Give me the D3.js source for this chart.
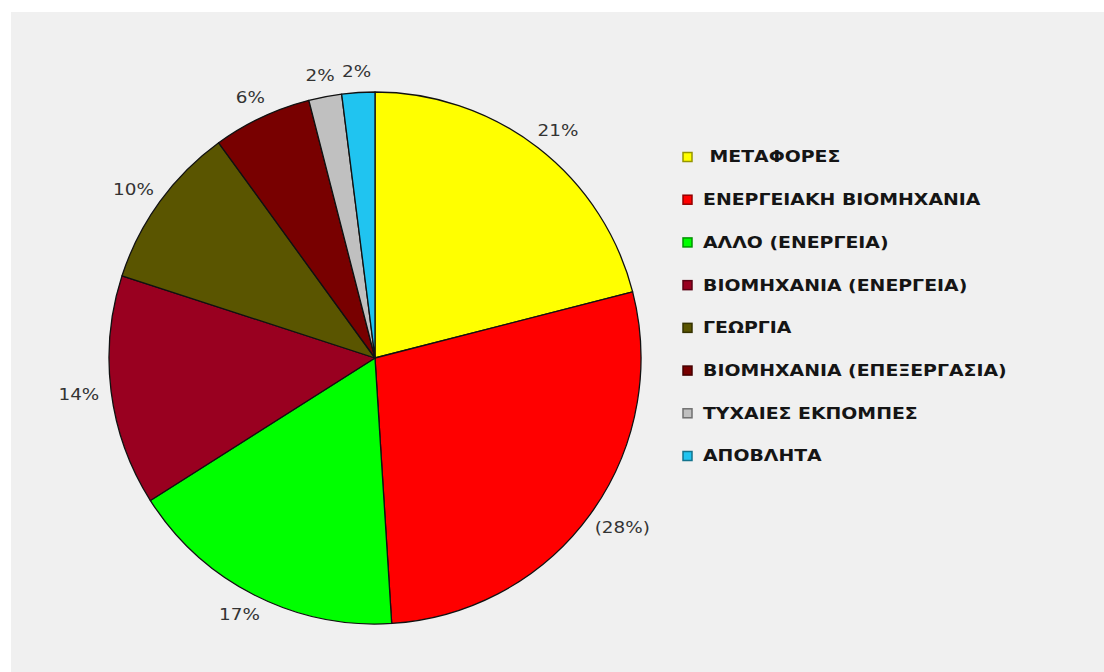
<!DOCTYPE html>
<html><head><meta charset="utf-8">
<script src="https://cdn.jsdelivr.net/npm/d3@7"></script>
<style>body{margin:0;background:#fff;overflow:hidden}</style>
</head><body><svg id="c" width="1104" height="672"></svg>
<script>
const categories = [" ΜΕΤΑΦΟΡΕΣ","ΕΝΕΡΓΕΙΑΚΗ ΒΙΟΜΗΧΑΝΙΑ","ΑΛΛΟ (ΕΝΕΡΓΕΙΑ)","ΒΙΟΜΗΧΑΝΙΑ (ΕΝΕΡΓΕΙΑ)","ΓΕΩΡΓΙΑ","ΒΙΟΜΗΧΑΝΙΑ (ΕΠΕΞΕΡΓΑΣΙΑ)","ΤΥΧΑΙΕΣ ΕΚΠΟΜΠΕΣ","ΑΠΟΒΛΗΤΑ"];
const values = [21,28,17,14,10,6,2,2];
const pctLabels = ["21%","(28%)","17%","14%","10%","6%","2%","2%"];
const colors = ["#ffff00","#ff0000","#00ff00","#990020","#5a5500","#780000","#c0c0c0","#20c4f0"];

const svg = d3.select("#c");
svg.append("rect").attr("x",11).attr("y",12).attr("width",1093).attr("height",660).attr("fill","#f0f0f0");

const cx = 375, cy = 358, R = 266;
const g = svg.append("g").attr("transform",`translate(${cx},${cy})`);
const pie = d3.pie().sort(null).value(d=>d.v);
const data = pie(values.map((v,i)=>({v,i})));
const arc = d3.arc().innerRadius(0).outerRadius(R);
g.selectAll("path.s").data(data).join("path").attr("class","s")
  .attr("d",arc).attr("fill",d=>colors[d.data.i])
  .attr("stroke","#111").attr("stroke-width",1.3).attr("stroke-linejoin","round");

const off = 12, sx = 1.15;
g.selectAll("text.p").data(data).join("text").attr("class","p")
  .attr("text-anchor","middle").attr("dominant-baseline","central")
  .attr("font-family","'DejaVu Sans', sans-serif").attr("font-size",16)
  .attr("fill","#333")
  .text(d=>pctLabels[d.data.i])
  .each(function(d){
    const a = (d.startAngle+d.endAngle)/2;
    const b = this.getBBox();
    const w = b.width*sx, h = b.height;
    const x = Math.sin(a)*(R+off) + Math.sin(a)*w/2;
    const y = -Math.cos(a)*(R+off) - Math.cos(a)*h/2;
    d3.select(this).attr("transform",`translate(${x},${y}) scale(${sx},1)`);
  });

const leg = svg.append("g");
const ly = d3.scalePoint().domain(d3.range(categories.length)).range([157,456]);
const items = leg.selectAll("g").data(categories).join("g")
  .attr("transform",(d,i)=>`translate(683,${ly(i)})`);
items.append("rect").attr("x",0).attr("y",-4.5).attr("width",9).attr("height",9)
  .attr("fill",(d,i)=>colors[i]).attr("stroke",(d,i)=>d3.color(colors[i]).darker(1.5)).attr("stroke-width",1.5);
const lsx = 1.18;
items.append("text").attr("transform",`translate(20,0) scale(${lsx},1)`).attr("dominant-baseline","central")
  .attr("font-family","'DejaVu Sans', sans-serif").attr("font-weight","bold").attr("font-size",16)
  .attr("fill","#151515").style("white-space","pre").text(d=>d);
</script></body></html>
